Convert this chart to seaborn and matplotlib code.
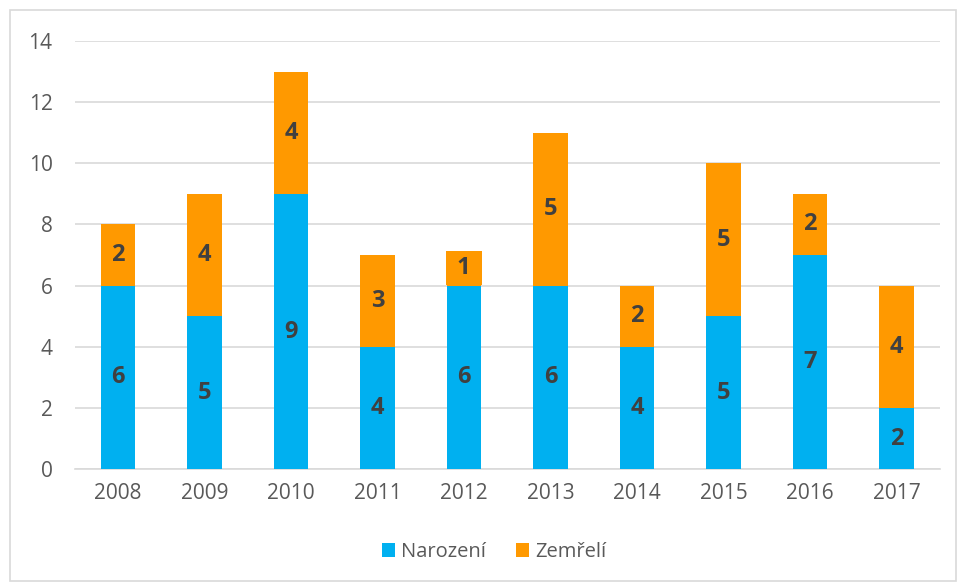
import matplotlib
matplotlib.use("Agg")
import matplotlib.pyplot as plt
import seaborn as sns
import pandas as pd
from matplotlib.patches import Patch, Rectangle

years = ["2008", "2009", "2010", "2011", "2012", "2013", "2014", "2015", "2016", "2017"]
narozeni = [6, 5, 9, 4, 6, 6, 4, 5, 7, 2]
zemreli = [2, 4, 4, 3, 1, 5, 2, 5, 2, 4]
yticks = [0, 2, 4, 6, 8, 10, 12, 14]

BLUE = "#00B0F0"
ORANGE = "#FF9900"
TXT = "#595959"

sns.set_theme(style="white")
plt.rcParams["font.family"] = ["Open Sans", "DejaVu Sans"]

df = pd.DataFrame({"rok": years, "Narozeni": narozeni, "Zemreli": zemreli})
df["celkem"] = df["Narozeni"] + df["Zemreli"]

fig = plt.figure(figsize=(9.58, 5.85), dpi=100)
ax = fig.add_axes([0.078, 0.198, 0.903, 0.732])

sns.barplot(data=df, x="rok", y="celkem", color=ORANGE, saturation=1, width=0.4,
            ax=ax, edgecolor="none", linewidth=0, zorder=2)
sns.barplot(data=df, x="rok", y="Narozeni", color=BLUE, saturation=1, width=0.4,
            ax=ax, edgecolor="none", linewidth=0, zorder=3)

ax.set_ylim(0, 14)
ax.set_xlim(-0.5, len(years) - 0.5)
ax.set_yticks(yticks)
ax.set_yticklabels([str(t) for t in yticks])
ax.set_xlabel("")
ax.set_ylabel("")
ax.grid(axis="y", color="#D9D9D9", linewidth=1.2, zorder=0)
ax.set_axisbelow(True)
for s in ["left", "right", "top"]:
    ax.spines[s].set_visible(False)
ax.spines["bottom"].set_color("#D9D9D9")
ax.spines["bottom"].set_linewidth(1.2)
ax.tick_params(axis="both", length=0, labelsize=15, colors=TXT)
ax.tick_params(axis="x", pad=10)
ax.tick_params(axis="y", pad=16)

LBL = dict(ha="center", va="center", fontsize=17, fontweight="bold", color="#404040")
for i, (n, z) in enumerate(zip(narozeni, zemreli)):
    ax.text(i, n / 2, str(n), zorder=5, **LBL)
    if z == 1:
        ax.text(i, n + z / 2 + 0.08, " " + str(z) + " ", zorder=6,
                bbox=dict(boxstyle="square,pad=0.2", facecolor=ORANGE,
                          edgecolor="none"), **LBL)
    else:
        ax.text(i, n + z / 2, str(z), zorder=5, **LBL)

handles = [Patch(facecolor=BLUE, edgecolor="none", label="Narození"),
           Patch(facecolor=ORANGE, edgecolor="none", label="Zemřelí")]
leg = fig.legend(handles=handles, loc="center", bbox_to_anchor=(0.516, 0.056),
                 ncol=2, frameon=False, fontsize=14.5, handlelength=0.65,
                 handleheight=0.65, handletextpad=0.3, columnspacing=1.5)
for t in leg.get_texts():
    t.set_color(TXT)

fig.patches.append(Rectangle((10 / 958, 4 / 585), 946 / 958, 571 / 585,
                             transform=fig.transFigure, fill=False,
                             edgecolor="#D9D9D9", linewidth=1.2))

fig.savefig("out.png", dpi=100, facecolor="white")
